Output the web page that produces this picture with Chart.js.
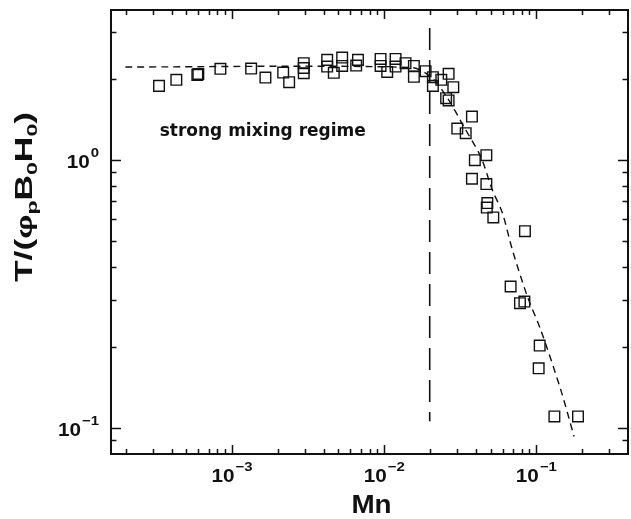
<!DOCTYPE html>
<html lang="en">
<head>
<meta charset="UTF-8">
<title>T vs Mn</title>
<script src="https://cdn.jsdelivr.net/npm/chart.js"></script>
<style>
  body { margin: 0; background: #fff; overflow: hidden; }
</style>
</head>
<body>
<canvas id="myChart" width="631" height="519"></canvas>
<script>
// measured points (Mn, T/(phi_p B0 H0))
const mnVals = [3.31e-4, 4.30e-4, 5.91e-4, 6.0e-4, 8.38e-4, 1.334e-3, 1.656e-3, 2.166e-3, 2.371e-3,
  2.958e-3, 2.958e-3, 2.958e-3, 4.217e-3, 4.217e-3, 4.66e-3, 5.29e-3, 5.29e-3, 6.72e-3, 6.54e-3,
  9.46e-3, 9.46e-3, 1.046e-2, 1.187e-2, 1.187e-2, 1.380e-2, 1.566e-2, 1.566e-2, 1.870e-2,
  2.088e-2, 2.088e-2, 2.371e-2, 2.649e-2, 2.844e-2, 2.551e-2, 2.649e-2, 3.77e-2, 3.02e-2,
  3.43e-2, 4.69e-2, 3.94e-2, 3.77e-2, 4.69e-2, 4.76e-2, 4.72e-2, 5.21e-2, 8.41e-2, 6.77e-2,
  7.80e-2, 8.34e-2, 0.1051, 0.1035, 0.1313, 0.1877];
const tVals = [1.887, 1.987, 2.074, 2.09, 2.184, 2.189, 2.026, 2.115, 1.948,
  2.293, 2.20, 2.104, 2.359, 2.227, 2.110, 2.406, 2.240, 2.359, 2.246,
  2.379, 2.240, 2.128, 2.379, 2.227, 2.293, 2.240, 2.039, 2.141,
  2.034, 1.887, 1.987, 2.092, 1.866, 1.698, 1.666, 1.450, 1.308,
  1.257, 1.041, 0.997, 0.850, 0.812, 0.690, 0.664, 0.610, 0.542, 0.337,
  0.292, 0.296, 0.203, 0.167, 0.1105, 0.1105];

// fitted curve
const fitMn = [1.99e-4, 1.49e-2, 2.02e-2, 2.60e-2, 3.33e-2, 4.30e-2, 5.13e-2, 5.97e-2, 6.95e-2, 8.73e-2, 0.1067, 0.1445, 0.1768];
const fitT = [2.22, 2.21, 2.044, 1.702, 1.331, 1.029, 0.773, 0.635, 0.462, 0.309, 0.2325, 0.139, 0.093];

// vertical boundary line
const critMn = [0.0199, 0.0199];
const critT = [3.1, 0.106];

// axis labels
const xTickVals = [1e-3, 1e-2, 1e-1];
const xTickExps = ['\u22123', '\u22122', '\u22121'];
const yTickVals = [0.1, 1];
const yTickExps = ['\u22121', '0'];

const note = { text: 'strong mixing regime', mn: 3.34e-4, t: 1.229 };

function pts(xs, ys) {
  return xs.map((x, i) => ({ x: x, y: ys[i] }));
}

function supLabel(ctx, exp, x, y, align) {
  const sx = 1.15;
  ctx.font = 'bold 18px "Liberation Sans", Arial';
  const wb = ctx.measureText('10').width * sx;
  ctx.font = 'bold 13px "Liberation Sans", Arial';
  const we = ctx.measureText(exp).width * sx;
  const total = wb + we + 1;
  let x0 = align === 'center' ? x - total / 2 : x - total;
  ctx.save();
  ctx.translate(x0, y);
  ctx.scale(sx, 1);
  ctx.font = 'bold 18px "Liberation Sans", Arial';
  ctx.fillText('10', 0, 0);
  ctx.font = 'bold 13px "Liberation Sans", Arial';
  ctx.fillText(exp, (wb + 1) / sx, -11);
  ctx.restore();
}

const framePlugin = {
  id: 'frame',
  afterDraw(chart) {
    const ctx = chart.ctx, a = chart.chartArea;
    const xs = chart.scales.x, ys = chart.scales.y;
    ctx.save();
    ctx.strokeStyle = '#111';
    ctx.fillStyle = '#111';
    ctx.lineWidth = 2;
    ctx.strokeRect(a.left, a.top, a.right - a.left, a.bottom - a.top);

    // inward ticks on all four sides
    ctx.lineWidth = 1.5;
    ctx.beginPath();
    for (let d = -4; d <= 0; d++) {
      for (let k = 1; k <= 9; k++) {
        const v = k * Math.pow(10, d);
        if (v <= xs.min || v >= xs.max) continue;
        const px = Math.round(xs.getPixelForValue(v)) + 0.5;
        const len = k === 1 ? 9 : 5;
        ctx.moveTo(px, a.bottom); ctx.lineTo(px, a.bottom - len);
        ctx.moveTo(px, a.top); ctx.lineTo(px, a.top + len);
      }
    }
    for (let d = -2; d <= 0; d++) {
      for (let k = 1; k <= 9; k++) {
        const v = k * Math.pow(10, d);
        if (v <= ys.min || v >= ys.max) continue;
        const py = Math.round(ys.getPixelForValue(v)) + 0.5;
        const len = k === 1 ? 10 : 5.5;
        ctx.moveTo(a.left, py); ctx.lineTo(a.left + len, py);
        ctx.moveTo(a.right, py); ctx.lineTo(a.right - len, py);
      }
    }
    ctx.stroke();

    // tick labels
    ctx.textAlign = 'left';
    ctx.textBaseline = 'alphabetic';
    xTickVals.forEach((v, i) => {
      supLabel(ctx, xTickExps[i], xs.getPixelForValue(v), a.bottom + 28, 'center');
    });
    yTickVals.forEach((v, i) => {
      supLabel(ctx, yTickExps[i], a.left - 12, ys.getPixelForValue(v) + 8, 'right');
    });

    // x title
    ctx.save();
    ctx.font = 'bold 26px "Liberation Sans", Arial';
    const wm = ctx.measureText('Mn').width;
    ctx.translate((a.left + a.right) / 2 + 2, 513);
    ctx.scale(1.07, 1);
    ctx.fillText('Mn', -wm / 2, 0);
    ctx.restore();

    // y title with subscripts, rotated
    const parts = [
      ['T/(', 'bold 23px "Liberation Sans", Arial', 0],
      ['\u03C6', 'bold 22px "Liberation Sans", Arial', 0],
      ['p', 'bold 15px "Liberation Sans", Arial', 5],
      ['B', 'bold 23px "Liberation Sans", Arial', 0],
      ['0', 'bold 15px "Liberation Sans", Arial', 5],
      ['H', 'bold 23px "Liberation Sans", Arial', 0],
      ['0', 'bold 15px "Liberation Sans", Arial', 5],
      [')', 'bold 23px "Liberation Sans", Arial', 0]
    ];
    let tot = 0;
    parts.forEach(p => { ctx.font = p[1]; tot += ctx.measureText(p[0]).width; });
    const scaleLen = 170 / tot;
    ctx.save();
    ctx.translate(32, 197);
    ctx.rotate(-Math.PI / 2);
    ctx.scale(scaleLen, 1);
    let cx = -tot / 2;
    parts.forEach(p => {
      ctx.font = p[1];
      ctx.fillText(p[0], cx, p[2]);
      cx += ctx.measureText(p[0]).width;
    });
    ctx.restore();

    // annotation
    ctx.font = 'bold 17px "DejaVu Sans"';
    ctx.fillText(note.text, xs.getPixelForValue(note.mn), ys.getPixelForValue(note.t));
    ctx.restore();
  }
};

new Chart(document.getElementById('myChart'), {
  type: 'scatter',
  data: {
    datasets: [
      {
        label: 'data',
        data: pts(mnVals, tVals),
        pointStyle: 'rect',
        pointRadius: 7.5,
        borderColor: '#111',
        borderWidth: 1.4,
        backgroundColor: 'rgba(0,0,0,0)',
        showLine: false
      },
      {
        label: 'fit',
        data: pts(fitMn, fitT),
        showLine: true,
        pointRadius: 0,
        borderColor: '#111',
        borderWidth: 1.4,
        borderDash: [7, 5],
        tension: 0.3
      },
      {
        label: 'crit',
        data: pts(critMn, critT),
        showLine: true,
        pointRadius: 0,
        borderColor: '#111',
        borderWidth: 1.6,
        borderDash: [22, 10]
      }
    ]
  },
  options: {
    responsive: false,
    animation: false,
    layout: { autoPadding: false, padding: { left: 111, right: 3, top: 10, bottom: 65 } },
    plugins: { legend: { display: false }, tooltip: { enabled: false } },
    scales: {
      x: {
        type: 'logarithmic', min: 1.6e-4, max: 0.4,
        grid: { display: false }, border: { display: false },
        ticks: { display: false },
        afterFit(s) { s.height = 0; s.paddingLeft = 0; s.paddingRight = 0; }
      },
      y: {
        type: 'logarithmic', min: 0.08, max: 3.62,
        grid: { display: false }, border: { display: false },
        ticks: { display: false },
        afterFit(s) { s.width = 0; s.paddingTop = 0; s.paddingBottom = 0; }
      }
    }
  },
  plugins: [framePlugin]
});
</script>
</body>
</html>
